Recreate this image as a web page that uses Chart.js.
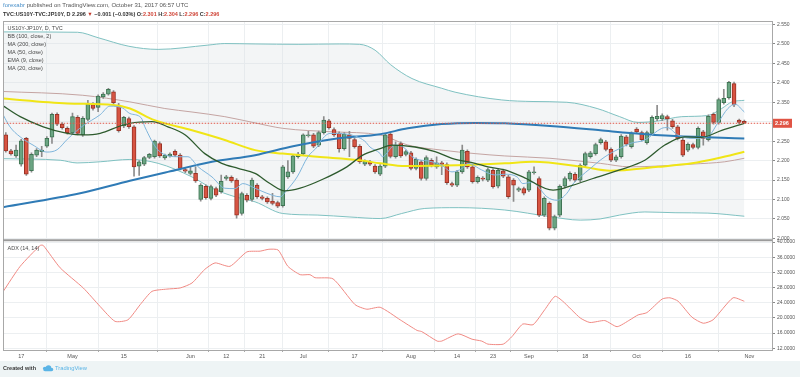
<!DOCTYPE html>
<html><head><meta charset="utf-8">
<script src="https://cdn.jsdelivr.net/npm/chart.js@4.4.0/dist/chart.umd.min.js"></script>
<style>html,body{margin:0;padding:0;background:#fff;overflow:hidden}</style>
</head><body>
<canvas id="c" width="800" height="377"></canvas>
<script>
// daily bars, 12 Apr - 31 Oct 2017 (weekdays), index 0..144
var opens  = [2.266,2.225,2.212,2.191,2.257,2.174,2.214,2.223,2.237,2.260,2.319,2.294,2.283,2.271,2.311,2.266,2.306,2.344,2.337,2.364,2.371,2.377,2.343,2.289,2.308,
  2.287,2.186,2.191,2.208,2.210,2.244,2.207,2.212,2.224,2.214,2.177,2.167,2.167,2.100,2.134,2.103,2.128,2.120,2.154,2.157,2.150,2.064,2.111,2.100,2.137,
  2.107,2.103,2.096,2.092,2.084,2.158,2.171,2.210,2.217,2.264,2.266,2.240,2.272,2.302,2.280,2.270,2.231,2.266,2.254,2.237,2.191,2.197,2.186,2.165,2.186,
  2.268,2.210,2.244,2.216,2.220,2.180,2.197,2.154,2.201,2.184,2.194,2.190,2.141,2.137,2.171,2.224,2.184,2.146,2.155,2.150,2.175,2.134,2.174,2.158,2.150,
  2.124,2.128,2.124,2.169,2.154,2.060,2.090,2.026,2.060,2.134,2.152,2.165,2.150,2.188,2.210,2.218,2.246,2.248,2.229,2.201,2.210,2.261,2.236,2.281,2.272,
  2.246,2.270,2.307,2.307,2.313,2.302,2.287,2.253,2.227,2.241,2.234,2.274,2.254,2.319,2.298,2.349,2.362,2.398,2.304,2.301];
var highs  = [2.272,2.229,2.240,2.255,2.260,2.220,2.231,2.237,2.262,2.322,2.323,2.298,2.287,2.322,2.316,2.313,2.355,2.349,2.369,2.375,2.386,2.380,2.347,2.314,2.312,
  2.290,2.200,2.211,2.219,2.253,2.248,2.217,2.220,2.228,2.218,2.181,2.184,2.184,2.141,2.138,2.137,2.132,2.163,2.162,2.161,2.154,2.119,2.115,2.155,2.141,
  2.111,2.107,2.116,2.096,2.188,2.200,2.215,2.221,2.269,2.275,2.270,2.276,2.313,2.306,2.284,2.274,2.272,2.275,2.258,2.241,2.202,2.201,2.190,2.190,2.270,
  2.272,2.248,2.248,2.227,2.224,2.207,2.201,2.212,2.205,2.210,2.198,2.194,2.145,2.175,2.240,2.228,2.188,2.161,2.159,2.181,2.179,2.179,2.178,2.162,2.154,
  2.132,2.132,2.175,2.184,2.158,2.107,2.094,2.060,2.138,2.158,2.171,2.169,2.192,2.222,2.224,2.245,2.258,2.252,2.233,2.214,2.267,2.265,2.274,2.285,2.276,
  2.276,2.315,2.342,2.320,2.317,2.306,2.291,2.257,2.246,2.245,2.287,2.278,2.318,2.323,2.361,2.383,2.404,2.402,2.307,2.304];
var lows   = [2.222,2.214,2.208,2.186,2.162,2.170,2.210,2.210,2.234,2.244,2.290,2.281,2.268,2.267,2.266,2.262,2.302,2.330,2.326,2.360,2.368,2.345,2.273,2.285,2.283,
  2.160,2.162,2.187,2.205,2.206,2.208,2.203,2.209,2.210,2.176,2.169,2.163,2.144,2.096,2.101,2.099,2.107,2.116,2.150,2.144,2.052,2.060,2.094,2.096,2.103,
  2.099,2.090,2.086,2.079,2.080,2.154,2.167,2.206,2.213,2.260,2.233,2.236,2.268,2.281,2.262,2.222,2.227,2.210,2.232,2.193,2.187,2.187,2.167,2.161,2.182,
  2.207,2.206,2.208,2.212,2.176,2.176,2.150,2.150,2.184,2.180,2.164,2.139,2.133,2.133,2.167,2.180,2.142,2.142,2.148,2.146,2.129,2.130,2.156,2.103,2.095,
  2.120,2.112,2.120,2.165,2.056,2.056,2.022,2.022,2.056,2.130,2.148,2.146,2.146,2.184,2.206,2.214,2.242,2.225,2.197,2.197,2.206,2.238,2.232,2.270,2.250,
  2.242,2.266,2.303,2.303,2.278,2.283,2.253,2.210,2.223,2.230,2.230,2.240,2.250,2.294,2.294,2.345,2.358,2.339,2.295,2.296];
var closes = [2.225,2.217,2.227,2.251,2.165,2.216,2.227,2.227,2.257,2.319,2.294,2.285,2.272,2.313,2.270,2.309,2.345,2.334,2.366,2.371,2.383,2.349,2.277,2.311,2.287,
  2.184,2.197,2.208,2.216,2.250,2.212,2.214,2.217,2.214,2.180,2.173,2.174,2.148,2.137,2.105,2.133,2.111,2.147,2.158,2.148,2.060,2.115,2.098,2.150,2.107,
  2.103,2.094,2.090,2.083,2.184,2.171,2.212,2.217,2.266,2.266,2.237,2.272,2.304,2.285,2.266,2.231,2.268,2.257,2.236,2.197,2.198,2.191,2.171,2.186,2.266,
  2.211,2.240,2.212,2.223,2.180,2.203,2.154,2.208,2.188,2.194,2.190,2.143,2.137,2.171,2.227,2.184,2.146,2.157,2.152,2.177,2.133,2.175,2.160,2.107,2.137,
  2.128,2.116,2.171,2.171,2.060,2.103,2.026,2.056,2.134,2.154,2.167,2.150,2.188,2.218,2.220,2.241,2.254,2.229,2.201,2.210,2.263,2.242,2.270,2.274,2.254,
  2.272,2.311,2.314,2.316,2.307,2.287,2.257,2.214,2.242,2.234,2.283,2.257,2.314,2.298,2.357,2.360,2.401,2.343,2.298,2.296];

// indicator readings [bar index, value]
var bbUpper = [[-1,2.531],[14,2.530],[18,2.516],[24,2.494],[29.7,2.486],[39.4,2.497],[42.7,2.501],[48.6,2.500],[57,2.499],[65,2.500],[69,2.499],[72,2.484],
  [75,2.447],[79.2,2.411],[85,2.386],[87.6,2.376],[96.7,2.356],[102.8,2.352],[109.4,2.350],[115.3,2.334],[119.7,2.313],[123.3,2.298],[127.2,2.302],
  [131.8,2.313],[136.9,2.316],[139.6,2.334],[141.6,2.351],[144,2.355]];
var bbLower = [[-1,2.205],[10.6,2.201],[13.9,2.194],[18.4,2.197],[24.2,2.203],[29.7,2.193],[36.3,2.158],[40.2,2.129],[44.7,2.107],[48.6,2.094],[54,2.064],
  [60.7,2.060],[67.1,2.055],[73,2.051],[77.2,2.064],[81.7,2.077],[88.2,2.079],[97.3,2.073],[106.1,2.056],[112,2.047],[115.9,2.050],[119.7,2.060],
  [124.6,2.068],[130.5,2.066],[136.9,2.065],[144,2.057]];
var bbBasis = [[-1,2.378],[15,2.368],[24.2,2.351],[31,2.334],[36.3,2.325],[42.7,2.313],[48.6,2.297],[54,2.283],[63.8,2.274],[73,2.266],[78.4,2.240],
  [85,2.227],[91.5,2.218],[97.3,2.212],[106.1,2.206],[115.9,2.193],[121.7,2.184],[127.2,2.186],[133.8,2.191],[140.2,2.197],[144,2.206]];
var ma200 = [[-1,2.079],[14.5,2.116],[24.2,2.148],[31.6,2.171],[40.2,2.197],[48.6,2.214],[56,2.237],[64.6,2.257],[73,2.268],[78.4,2.283],[85,2.294],
  [91.5,2.297],[97.3,2.296],[106.1,2.289],[115.9,2.278],[121.7,2.271],[130.5,2.263],[144,2.257]];
var ma50 = [[-1,2.360],[12,2.347],[21,2.343],[24.2,2.334],[29,2.304],[36.3,2.278],[42.7,2.253],[48.6,2.227],[54,2.218],[60.7,2.210],[69,2.201],[73,2.193],
  [78,2.186],[88,2.188],[97.3,2.193],[102.8,2.197],[112.5,2.184],[117.8,2.174],[127.2,2.184],[133.8,2.193],[138.8,2.206],[144,2.223]];
var ema9 = [[-1,2.330],[0.8,2.287],[2.8,2.261],[5.3,2.240],[8,2.222],[10,2.228],[12,2.255],[15.1,2.290],[18.4,2.318],[20.3,2.340],[22.8,2.335],[24.2,2.321],
  [26.4,2.310],[27.1,2.287],[29.7,2.227],[33.6,2.210],[35.5,2.210],[37.5,2.184],[40.2,2.158],[42.7,2.129],[44.7,2.128],[46.2,2.141],[48.6,2.129],
  [50.9,2.116],[53.5,2.107],[54.8,2.124],[56.8,2.158],[58.9,2.210],[60.7,2.235],[61.8,2.257],[63.2,2.270],[66.5,2.268],[70,2.250],[71,2.235],[73,2.218],
  [73.4,2.210],[75.9,2.240],[77.8,2.232],[79.2,2.210],[83.1,2.197],[85,2.188],[87,2.171],[89,2.180],[90.1,2.193],[92.8,2.176],[95.4,2.163],[97.3,2.165],
  [99.7,2.158],[100.8,2.141],[102.8,2.145],[103.8,2.133],[105.5,2.107],[107.5,2.098],[109.4,2.116],[110.6,2.140],[112,2.158],[114,2.180],[115.9,2.201],
  [117.8,2.218],[119.7,2.231],[121.7,2.244],[124.6,2.253],[127.9,2.283],[129,2.285],[131,2.266],[133.8,2.257],[136.9,2.262],[138.8,2.296],[140.8,2.334],
  [142.2,2.345],[144,2.325]];
var ma20 = [[-1,2.345],[2.8,2.313],[7.3,2.287],[12,2.270],[15.1,2.266],[18.4,2.270],[22.3,2.289],[24.2,2.296],[28.5,2.300],[31.6,2.287],[35,2.266],
  [38.8,2.218],[42.1,2.193],[45.3,2.180],[48.6,2.167],[51.5,2.141],[54.4,2.122],[57.4,2.129],[61.8,2.152],[66.5,2.184],[69.6,2.214],[73,2.231],
  [75.3,2.240],[79.8,2.235],[83.7,2.223],[87,2.206],[91.5,2.193],[94,2.184],[97.3,2.176],[100.8,2.158],[106.7,2.124],[110.6,2.137],[114.5,2.154],
  [119.7,2.176],[124.6,2.201],[128.5,2.240],[132.4,2.261],[135.7,2.260],[139.6,2.278],[144,2.296]];
var adx = [[-0.5,27.0],[2.8,33.6],[6.7,39.1],[7.3,39.1],[10.6,33.2],[15.1,27.9],[18.4,23.0],[21.3,19.1],[23.8,19.5],[26.2,23.5],[28.5,27.0],[31.4,27.6],
  [34,27.9],[36.3,29.2],[38.8,32.8],[40.8,34.5],[43.7,33.6],[47,37.4],[49.6,37.6],[51.3,38.1],[53.1,37.9],[55,33.6],[57.4,31.4],[59.3,31.4],[60.3,30.6],
  [63.8,30.3],[68.1,23.5],[70.4,22.3],[73,22.8],[76.9,19.5],[80.2,16.7],[81.1,16.4],[84.1,13.9],[85,13.9],[88.2,15.8],[90.9,14.4],[92.8,13.9],[94,13.1],
  [97,13.1],[98.7,15.1],[100.8,18.4],[102.8,18.2],[105.1,22.2],[107.1,25.7],[108.6,24.4],[112,20.0],[113.9,18.8],[116.8,19.3],[119.2,17.7],[121.7,19.5],
  [123.3,20.8],[125,21.4],[128,25.0],[129.5,25.3],[131.1,24.4],[133.8,20.2],[136,18.6],[137.9,19.5],[141.8,25.3],[144,24.4]];

var tickIdx  = [3,13,23,36,43,50,58,68,79,88,95,102,113,123,133,145];
var tickText = ['17','May','15','Jun','12','21','Jul','17','Aug','14','23','Sep','18','Oct','16','Nov'];
var priceTicks = [2.000,2.050,2.100,2.150,2.200,2.250,2.300,2.350,2.400,2.450,2.500,2.550];
var adxTicks = [12,16,20,24,28,32,36,40];

var FONT = 'Liberation Sans, Arial, sans-serif';
var UP = '#6ba583', DOWN = '#d75442';
var lastClose = closes[closes.length - 1];

function pts(a) { return a.map(function (p) { return {x: p[0], y: p[1]}; }); }
function line(data, color, width, order, extra) {
  var d = {type: 'line', data: pts(data), borderColor: color, borderWidth: width, pointRadius: 0,
    cubicInterpolationMode: 'monotone', fill: false, order: order, yAxisID: 'y'};
  for (var k in extra) d[k] = extra[k];
  return d;
}

var frame = {
  id: 'frame',
  beforeDraw: function (chart) {
    var ctx = chart.ctx;
    ctx.save();
    ctx.fillStyle = '#fff';
    ctx.fillRect(0, 0, 800, 377);
    ctx.fillStyle = '#eef4f5';
    ctx.fillRect(0, 361, 800, 16);
    ctx.restore();
  },
  afterDraw: function (chart) {
    var ctx = chart.ctx, a = chart.chartArea, y = chart.scales.y, y2 = chart.scales.y2;
    ctx.save();
    ctx.strokeStyle = '#a8a8a8';
    ctx.lineWidth = 1;
    ctx.strokeRect(a.left + 0.5, a.top + 0.5, a.right - a.left, a.bottom - a.top);
    ctx.strokeStyle = '#9a9a9a';
    ctx.lineWidth = 2;
    ctx.beginPath(); ctx.moveTo(a.left, y2.top); ctx.lineTo(a.right, y2.top); ctx.stroke();

    // last price tag
    var py = y.getPixelForValue(lastClose);
    ctx.fillStyle = '#e05444';
    ctx.fillRect(a.right + 1, py - 4.5, 19, 9);
    ctx.fillStyle = '#fff';
    ctx.font = 'bold 5.5px ' + FONT;
    ctx.textBaseline = 'middle';
    ctx.fillText(lastClose.toFixed(3), a.right + 3, py + 0.5);

    // pane legends
    ctx.fillStyle = '#4a4a4a';
    ctx.font = '5.5px ' + FONT;
    var leg = ['US10Y-JP10Y, D, TVC', 'BB (100, close, 2)', 'MA (200, close)', 'MA (50, close)', 'EMA (9, close)', 'MA (20, close)'];
    leg.forEach(function (t, i) { ctx.fillText(t, 7.5, 28.5 + i * 8); });
    ctx.fillText('ADX (14, 14)', 7.5, 248.5);

    // header
    ctx.font = '6px ' + FONT;
    ctx.fillStyle = '#4a90c9';
    ctx.fillText('forexabr', 3, 5);
    var w = ctx.measureText('forexabr ').width;
    ctx.fillStyle = '#555';
    ctx.fillText('published on TradingView.com, October 31, 2017 06:57 UTC', 3 + w, 5);

    var segs = [
      ['TVC:US10Y-TVC:JP10Y, D ', '#333'], ['2.296 ', '#333'], ['\u25BC', '#c0392b'], [' \u22120.001 (\u22120.03%) ', '#333'],
      ['O:', '#333'], ['2.301 ', '#d0473a'], ['H:', '#333'], ['2.304 ', '#d0473a'], ['L:', '#333'], ['2.296 ', '#d0473a'], ['C:', '#333'], ['2.296', '#d0473a']];
    var x = 3;
    ctx.font = 'bold 5.5px ' + FONT;
    segs.forEach(function (s) {
      ctx.fillStyle = s[1];
      ctx.fillText(s[0], x, 14);
      x += ctx.measureText(s[0]).width;
    });

    // footer
    ctx.font = 'bold 5.5px ' + FONT;
    ctx.fillStyle = '#3a3a3a';
    ctx.fillText('Created with', 3, 368.5);
    ctx.fillStyle = '#5ab4e6';
    ctx.beginPath();
    ctx.arc(45, 369, 2.2, Math.PI, 0);
    ctx.arc(48.5, 368, 2.8, Math.PI, 0);
    ctx.arc(51.5, 369.5, 1.8, Math.PI * 1.5, Math.PI * 0.5);
    ctx.lineTo(45, 371.3);
    ctx.arc(45, 369.5, 1.8, Math.PI * 0.5, Math.PI * 1.5);
    ctx.fill();
    ctx.font = '5.8px ' + FONT;
    ctx.fillText('TradingView', 55, 368.5);
    ctx.restore();
  }
};

var datasets = [
  line(bbUpper, '#7fc1c1', 1, 20, {fill: '+1', backgroundColor: 'rgba(222,226,230,0.35)'}),
  line(bbLower, '#7fc1c1', 1, 19),
  line(bbBasis, '#c4a4a2', 1, 18),
  {type: 'bar', data: closes.map(function (c, i) { return {x: i, y: [lows[i], highs[i]]}; }),
    backgroundColor: '#8c8c8c', barThickness: 1, grouped: false, order: 12, yAxisID: 'y'},
  {type: 'bar', data: closes.map(function (c, i) { return {x: i, y: [opens[i], c]}; }),
    backgroundColor: function (c) { var i = c.dataIndex; return closes[i] >= opens[i] ? UP : DOWN; },
    borderColor: function (c) { var i = c.dataIndex; return closes[i] >= opens[i] ? '#3f7453' : '#9a3326'; },
    borderWidth: 1, borderSkipped: false, barThickness: 4, grouped: false, order: 11, yAxisID: 'y'},
  line(ma200, '#2f7bb6', 2, 5),
  line(ma50, '#f0e516', 2, 6),
  line(ema9, '#7fb5db', 1, 4),
  line(ma20, '#2e5b2e', 1.3, 3),
  {type: 'line', data: [{x: -1, y: lastClose}, {x: 151, y: lastClose}], borderColor: '#e0584a', borderWidth: 1,
    borderDash: [1.5, 1.5], pointRadius: 0, order: 1, yAxisID: 'y'},
  {type: 'line', data: pts(adx), borderColor: '#f08a84', borderWidth: 1, pointRadius: 0, tension: 0.2, order: 2, yAxisID: 'y2'}
];

var gridColor = '#eceff1';
new Chart(document.getElementById('c'), {
  type: 'bar',
  data: {datasets: datasets},
  plugins: [frame],
  options: {
    responsive: false,
    devicePixelRatio: 1,
    animation: false,
    layout: {padding: {top: 21, left: 3, right: 0, bottom: 15}},
    plugins: {legend: {display: false}, tooltip: {enabled: false}},
    scales: {
      x: {
        type: 'linear', min: -0.55, max: 149.4, offset: false,
        grid: {color: gridColor, tickLength: 2, tickColor: '#aaa'},
        border: {display: false},
        ticks: {font: {size: 5.5, family: FONT}, color: '#555', padding: 1, autoSkip: false, maxRotation: 0,
          callback: function (v) { var k = tickIdx.indexOf(v); return k < 0 ? '' : tickText[k]; }},
        afterBuildTicks: function (s) { s.ticks = tickIdx.map(function (v) { return {value: v}; }); },
        afterFit: function (s) { s.height = 12; }
      },
      y: {
        type: 'linear', position: 'right', stack: 'panes', stackWeight: 2, min: 1.995, max: 2.559, offset: false,
        grid: {color: gridColor, tickLength: 3, tickColor: '#888'},
        border: {color: '#a0a0a0'},
        ticks: {font: {size: 5, family: FONT}, color: '#555', padding: 2, autoSkip: false,
          callback: function (v) { return v.toFixed(3); }},
        afterBuildTicks: function (s) { s.ticks = priceTicks.map(function (v) { return {value: v}; }); },
        afterFit: function (s) { s.width = 28; }
      },
      y2: {
        type: 'linear', position: 'right', stack: 'panes', stackWeight: 1, min: 11.55, max: 40.45, offset: false,
        grid: {color: gridColor, tickLength: 3, tickColor: '#888'},
        border: {color: '#a0a0a0'},
        ticks: {font: {size: 5, family: FONT}, color: '#555', padding: 2, autoSkip: false,
          callback: function (v) { return v.toFixed(4); }},
        afterBuildTicks: function (s) { s.ticks = adxTicks.map(function (v) { return {value: v}; }); },
        afterFit: function (s) { s.width = 28; }
      }
    }
  }
});
</script>
</body></html>
